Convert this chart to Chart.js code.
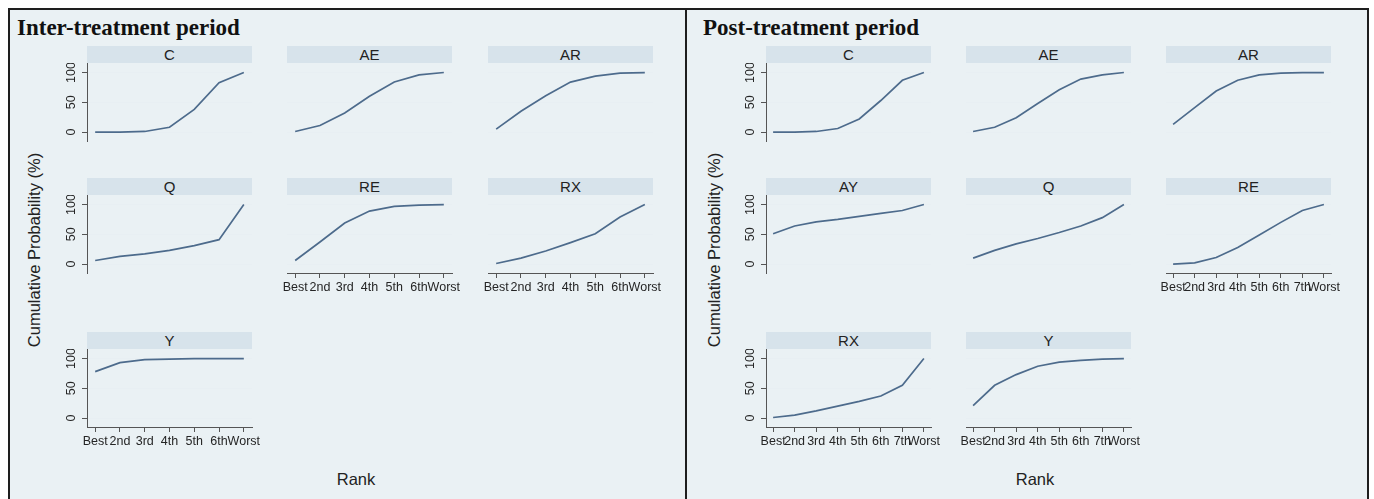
<!DOCTYPE html>
<html>
<head>
<meta charset="utf-8">
<script src="https://cdn.jsdelivr.net/npm/chart.js@4.4.1/dist/chart.umd.min.js"></script>
<style>
  html, body { margin: 0; padding: 0; }
  body { width: 1374px; height: 499px; background: #ffffff; position: relative; overflow: hidden;
         font-family: "Liberation Sans", Arial, sans-serif; }
  .panel { position: absolute; top: 8px; height: 500px; background: #eaf1f4;
           border: 2px solid #1e1e1e; border-bottom: none; box-sizing: border-box; }
  .title { position: absolute; font-family: "Liberation Serif", "Times New Roman", serif;
           font-weight: bold; font-size: 23px; line-height: 23px; color: #111; white-space: nowrap; }
  .strip { position: absolute; height: 17px; background: #d7e3eb; text-align: center;
           font-size: 15px; line-height: 17px; color: #222; }
  .axtitle { position: absolute; font-size: 16.5px; line-height: 17px; color: #222; white-space: nowrap; }
  .ytitle { transform: translate(-50%, -50%) rotate(-90deg); }
  .xtitle { transform: translate(-50%, -50%); }
  canvas { position: absolute; }
</style>
</head>
<body>
<div class="panel" style="left:8px;width:680px;"></div>
<div class="panel" style="left:685px;width:684px;"></div>
<div class="title" style="left:17px;top:16px;">Inter-treatment period</div>
<div class="title" style="left:703px;top:16px;">Post-treatment period</div>
<div class="axtitle ytitle" style="left:34px;top:250px;">Cumulative Probability (%)</div>
<div class="axtitle ytitle" style="left:714px;top:250px;">Cumulative Probability (%)</div>
<div class="axtitle xtitle" style="left:356px;top:479px;">Rank</div>
<div class="axtitle xtitle" style="left:1035px;top:479px;">Rank</div>
<div id="host"></div>

<script>
// Rank categories
const interRanks = ['Best', '2nd', '3rd', '4th', '5th', '6th', 'Worst'];
const postRanks  = ['Best', '2nd', '3rd', '4th', '5th', '6th', '7th', 'Worst'];
const yTicks = [0, 50, 100];

// Inter-treatment period: cumulative probability (%) by rank
const interC  = [0, 0, 1, 8, 38, 83, 100];
const interAE = [1, 11, 32, 60, 84, 96, 100];
const interAR = [5, 35, 61, 84, 94, 99, 100];
const interQ  = [6, 13, 17, 23, 31, 41, 100];
const interRE = [6, 37, 69, 89, 97, 99, 100];
const interRX = [1, 10, 22, 36, 51, 79, 100];
const interY  = [78, 93, 98, 99, 100, 100, 100];

// Post-treatment period: cumulative probability (%) by rank
const postC  = [0, 0, 1, 6, 22, 53, 87, 100];
const postAE = [1, 8, 24, 48, 71, 89, 96, 100];
const postAR = [13, 41, 69, 87, 96, 99, 100, 100];
const postAY = [51, 64, 71, 75, 80, 85, 90, 100];
const postQ  = [10, 23, 34, 43, 53, 64, 78, 100];
const postRE = [0, 2, 11, 28, 49, 70, 90, 100];
const postRX = [1, 5, 12, 20, 28, 37, 55, 100];
const postY  = [21, 55, 73, 87, 94, 97, 99, 100];

const interPanels = [
  { name: 'C',  values: interC,  row: 0, col: 0 },
  { name: 'AE', values: interAE, row: 0, col: 1 },
  { name: 'AR', values: interAR, row: 0, col: 2 },
  { name: 'Q',  values: interQ,  row: 1, col: 0 },
  { name: 'RE', values: interRE, row: 1, col: 1, bottom: true },
  { name: 'RX', values: interRX, row: 1, col: 2, bottom: true },
  { name: 'Y',  values: interY,  row: 2, col: 0, bottom: true }
];
const postPanels = [
  { name: 'C',  values: postC,  row: 0, col: 0 },
  { name: 'AE', values: postAE, row: 0, col: 1 },
  { name: 'AR', values: postAR, row: 0, col: 2 },
  { name: 'AY', values: postAY, row: 1, col: 0 },
  { name: 'Q',  values: postQ,  row: 1, col: 1 },
  { name: 'RE', values: postRE, row: 1, col: 2, bottom: true },
  { name: 'RX', values: postRX, row: 2, col: 0, bottom: true },
  { name: 'Y',  values: postY,  row: 2, col: 1, bottom: true }
];

// Grid geometry of the small multiples
const interCols = [87, 287, 488];
const postCols  = [766, 966, 1166];
const rowTops   = [63, 195, 349];
const plotW = 165, plotH = 78, stripH = 17;
const axisW = 40, axisH = 30, padR = 26;

const LINE = '#4d6b8c';
const INK = '#252525';
Chart.defaults.font.family = '"Liberation Sans", Arial, sans-serif';
Chart.defaults.color = INK;

// Vertical tick labels on the left axis, reading bottom-to-top
const rotatedYLabels = {
  id: 'rotatedYLabels',
  afterDraw(chart, args, opts) {
    if (!opts.show) return;
    const s = chart.scales.y, ctx = chart.ctx;
    ctx.save();
    ctx.font = '12.5px "Liberation Sans", Arial, sans-serif';
    ctx.fillStyle = INK;
    ctx.textAlign = 'center';
    ctx.textBaseline = 'middle';
    yTicks.forEach(v => {
      ctx.save();
      ctx.translate(chart.chartArea.left - 15.5, s.getPixelForValue(v));
      ctx.rotate(-Math.PI / 2);
      ctx.fillText(String(v), 0, 0);
      ctx.restore();
    });
    ctx.restore();
  }
};

const host = document.getElementById('host');

function addPanel(p, ranks, cols) {
  const L = cols[p.col], T = rowTops[p.row];
  const strip = document.createElement('div');
  strip.className = 'strip';
  strip.style.left = L + 'px';
  strip.style.top = (T - stripH) + 'px';
  strip.style.width = plotW + 'px';
  strip.textContent = p.name;
  host.appendChild(strip);

  const cv = document.createElement('canvas');
  const cw = axisW + plotW + padR, ch = plotH + axisH;
  cv.width = cw; cv.height = ch;
  cv.style.left = (L - axisW) + 'px';
  cv.style.top = T + 'px';
  cv.style.width = cw + 'px';
  cv.style.height = ch + 'px';
  host.appendChild(cv);

  const leftAxis = p.col === 0;
  new Chart(cv, {
    type: 'line',
    data: {
      datasets: [{
        data: p.values.map((v, i) => ({ x: i, y: v })),
        borderColor: LINE,
        borderWidth: 1.7,
        pointRadius: 0,
        tension: 0,
        fill: false
      }]
    },
    options: {
      responsive: false,
      animation: false,
      devicePixelRatio: 1,
      layout: { padding: { left: 0, right: padR, top: 0, bottom: 0 } },
      plugins: {
        legend: { display: false },
        tooltip: { enabled: false },
        rotatedYLabels: { show: leftAxis }
      },
      scales: {
        x: {
          type: 'linear',
          min: -0.33,
          max: ranks.length - 1 + 0.33,
          afterBuildTicks: s => { s.ticks = ranks.map((_, i) => ({ value: i })); },
          afterFit: s => { s.height = axisH; s.paddingLeft = 0; s.paddingRight = 0; },
          border: { display: !!p.bottom, color: '#555', width: 1 },
          grid: { display: !!p.bottom, drawOnChartArea: false, tickLength: 5, tickColor: '#555' },
          ticks: {
            display: !!p.bottom,
            autoSkip: false, maxRotation: 0, minRotation: 0, padding: 2,
            font: { size: 12.5 }, color: INK,
            callback: v => ranks[v]
          }
        },
        y: {
          type: 'linear',
          min: -15,
          max: 116,
          afterBuildTicks: s => { s.ticks = yTicks.map(v => ({ value: v })); },
          afterFit: s => { s.width = axisW; s.paddingTop = 0; s.paddingBottom = 0; },
          border: { display: leftAxis, color: '#555', width: 1 },
          grid: { color: '#e8eff3', lineWidth: 1, drawTicks: leftAxis, tickLength: 5, tickColor: '#555' },
          ticks: { display: false }
        }
      }
    },
    plugins: [rotatedYLabels]
  });
}

interPanels.forEach(p => addPanel(p, interRanks, interCols));
postPanels.forEach(p => addPanel(p, postRanks, postCols));
</script>
</body>
</html>
